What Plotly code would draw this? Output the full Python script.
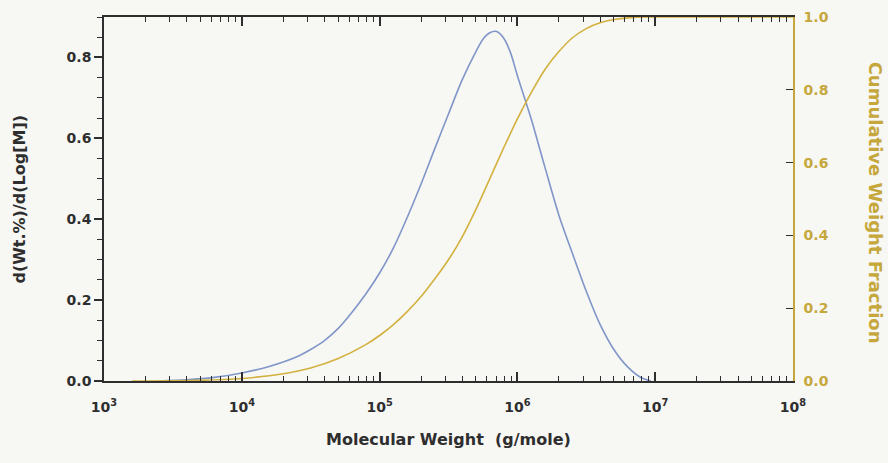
import plotly.graph_objects as go

# ---- data ----
mw_dist = [2500, 4000, 6300, 10000, 15800, 25100, 31600, 39800, 50100, 63100,
           79400, 100000, 126000, 158000, 200000, 251000, 316000, 398000,
           501000, 562000, 631000, 708000, 794000, 891000, 1.0e6, 1.26e6,
           1.58e6, 2.0e6, 2.51e6, 3.16e6, 3.98e6, 5.01e6, 6.31e6, 7.94e6, 9.3e6]
wt_dist = [0.0, 0.003, 0.009, 0.020, 0.036, 0.060, 0.078, 0.100, 0.130, 0.170,
           0.215, 0.267, 0.329, 0.403, 0.487, 0.574, 0.66, 0.745,
           0.815, 0.845, 0.861, 0.864, 0.848, 0.812, 0.755, 0.648,
           0.53, 0.41, 0.315, 0.222, 0.14, 0.078, 0.035, 0.008, 0.0]

mw_cum = [1600, 5000, 10000, 20000, 31600, 50100, 79400, 100000, 126000,
          158000, 200000, 251000, 316000, 398000, 501000, 631000, 794000,
          1.0e6, 1.26e6, 1.58e6, 2.0e6, 2.51e6, 3.16e6, 3.98e6, 5.01e6,
          7.08e6, 1.0e7, 1.0e8]
cum_frac = [0.0, 0.002, 0.007, 0.02, 0.036, 0.062, 0.10, 0.125, 0.155,
            0.19, 0.232, 0.28, 0.333, 0.396, 0.472, 0.556, 0.64,
            0.72, 0.792, 0.855, 0.905, 0.943, 0.968, 0.984, 0.993,
            0.999, 1.0, 1.0]

x_tick_vals = [1e3, 1e4, 1e5, 1e6, 1e7, 1e8]
x_tick_text = ["10<sup>3</sup>", "10<sup>4</sup>", "10<sup>5</sup>",
               "10<sup>6</sup>", "10<sup>7</sup>", "10<sup>8</sup>"]
y_left_ticks = [0.0, 0.2, 0.4, 0.6, 0.8]
y_right_ticks = [0.0, 0.2, 0.4, 0.6, 0.8, 1.0]

x_title = "Molecular Weight  (g/mole)"
y_left_title = "d(Wt.%)/d(Log[M])"
y_right_title = "Cumulative Weight Fraction"

# ---- styling ----
BLUE = "#8096c8"
GOLD = "#d3b13e"
AXIS_GOLD = "#c6a73c"
DARK = "#2e2e2e"
BG = "#f7f7f4"
FONT = "DejaVu Sans"

minor_x = [d * 10 ** e for e in range(3, 8) for d in range(2, 10)]

fig = go.Figure()
fig.add_trace(go.Scatter(
    x=mw_dist, y=wt_dist, mode="lines", yaxis="y",
    line=dict(color=BLUE, width=1.6, shape="spline", smoothing=0.8),
    showlegend=False, hoverinfo="skip"))
fig.add_trace(go.Scatter(
    x=mw_cum, y=cum_frac, mode="lines", yaxis="y2",
    line=dict(color=GOLD, width=1.6, shape="spline", smoothing=0.8),
    showlegend=False, hoverinfo="skip"))

fig.update_layout(
    width=888, height=463,
    margin=dict(l=104, r=95, t=17, b=82, autoexpand=False),
    paper_bgcolor=BG, plot_bgcolor=BG,
    font=dict(family=FONT, color=DARK, size=14),
    xaxis=dict(
        type="log", range=[3, 8], automargin=False,
        tickmode="array", tickvals=x_tick_vals, ticktext=x_tick_text,
        ticks="inside", ticklen=9, tickwidth=1.5, tickcolor=DARK,
        minor=dict(tickmode="array", tickvals=minor_x, ticks="inside",
                   ticklen=5, tickwidth=1.2, tickcolor=DARK, showgrid=False),
        showline=True, linecolor=DARK, linewidth=1.6, mirror="ticks",
        showgrid=False, zeroline=False, ticklabelstandoff=12,
        tickfont=dict(family=FONT, size=14, color=DARK, weight="bold"),
    ),
    yaxis=dict(
        range=[0, 0.9], automargin=False,
        tickmode="array", tickvals=y_left_ticks, tickformat=".1f",
        ticks="outside", ticklen=8, tickwidth=1.5, tickcolor=DARK,
        minor=dict(dtick=0.05, tick0=0, ticks="outside", ticklen=5,
                   tickwidth=1.2, tickcolor=DARK, showgrid=False),
        showline=True, linecolor=DARK, linewidth=1.6,
        showgrid=False, zeroline=False,
        tickfont=dict(family=FONT, size=14, color=DARK, weight="bold"),
    ),
    yaxis2=dict(
        overlaying="y", side="right", range=[0, 1.0], automargin=False,
        tickmode="array", tickvals=y_right_ticks, tickformat=".1f",
        ticks="inside", ticklen=7, tickwidth=1.3, tickcolor=DARK,
        showline=True, linecolor=AXIS_GOLD, linewidth=1.6,
        showgrid=False, zeroline=False, ticklabelstandoff=6,
        tickfont=dict(family=FONT, size=14, color=AXIS_GOLD, weight="bold"),
    ),
    annotations=[
        dict(text=x_title, xref="paper", yref="paper", x=0.5, y=-0.162,
             xanchor="center", yanchor="middle", showarrow=False,
             font=dict(family=FONT, size=16, color=DARK, weight="bold")),
        dict(text=y_left_title, xref="paper", yref="paper", x=-0.124, y=0.5,
             xanchor="center", yanchor="middle", showarrow=False, textangle=-90,
             font=dict(family=FONT, size=16, color=DARK, weight="bold")),
        dict(text=y_right_title, xref="paper", yref="paper", x=1.119, y=0.49,
             xanchor="center", yanchor="middle", showarrow=False, textangle=90,
             font=dict(family=FONT, size=18, color=AXIS_GOLD, weight="bold")),
    ],
)

fig.write_html(
    "out.html",
    config={"displayModeBar": False},
    post_script="document.body.style.margin='0';document.body.style.overflow='hidden';",
)
